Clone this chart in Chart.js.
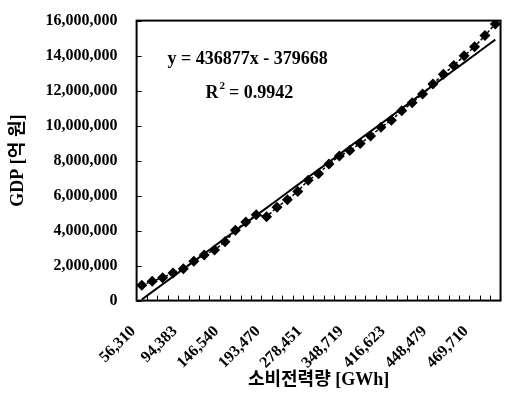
<!DOCTYPE html>
<html>
<head>
<meta charset="utf-8">
<script src="https://cdn.jsdelivr.net/npm/chart.js@4.4.0/dist/chart.umd.min.js"></script>
<style>
  html, body { margin: 0; padding: 0; background: #fff; }
  #wrap { width: 514px; height: 405px; }
</style>
</head>
<body>
<div id="wrap"><canvas id="myChart" width="514" height="405"></canvas></div>
<script>
// electricity use (GWh) per year, only every 4th one is labelled on the axis
const labels = [
  "56,310", "", "", "", "94,383", "", "", "", "146,540", "", "", "",
  "193,470", "", "", "", "278,451", "", "", "", "348,719", "", "", "",
  "416,623", "", "", "", "448,479", "", "", "", "469,710", "", ""
];

// GDP [억 원]
const gdp = [
  880000, 1110000, 1300000, 1580000, 1820000, 2240000, 2610000, 2890000,
  3360000, 4020000, 4490000, 4900000, 4790000, 5330000, 5760000, 6240000,
  6880000, 7250000, 7810000, 8260000, 8570000, 8980000, 9400000, 9900000,
  10300000, 10850000, 11310000, 11810000, 12380000, 12940000, 13430000,
  13990000, 14500000, 15150000, 15810000
];

const yTicks = [0, 2000000, 4000000, 6000000, 8000000, 10000000, 12000000, 14000000, 16000000];

// Excel trendline printed on the chart
const slope = 436877;
const intercept = -379668;
const trend = gdp.map((v, i) => slope * (i + 1) + intercept);

const serif = "'Liberation Serif', 'Times New Roman', 'Noto Sans CJK KR', serif";

const frame = {
  id: "frame",
  afterDraw(chart) {
    const ctx = chart.ctx;
    const a = chart.chartArea;
    ctx.save();
    ctx.strokeStyle = "#000";
    ctx.lineWidth = 2;
    ctx.strokeRect(a.left, a.top, a.right - a.left, a.bottom - a.top);

    // inward tick marks
    ctx.lineWidth = 1;
    const ys = chart.scales.y;
    yTicks.forEach(t => {
      const py = Math.round(ys.getPixelForValue(t)) + 0.5;
      ctx.beginPath();
      ctx.moveTo(a.left, py);
      ctx.lineTo(a.left + 5, py);
      ctx.stroke();
    });
    const n = labels.length;
    const w = (a.right - a.left) / n;
    for (let i = 1; i < n; i++) {
      const px = Math.round(a.left + i * w) + 0.5;
      ctx.beginPath();
      ctx.moveTo(px, a.bottom);
      ctx.lineTo(px, a.bottom - 5);
      ctx.stroke();
    }

    // equation
    ctx.fillStyle = "#000";
    ctx.font = "bold 18px " + serif;
    ctx.textBaseline = "middle";
    ctx.textAlign = "left";
    ctx.fillText("y = 436877x - 379668", a.left + 31, a.top + 39);
    ctx.fillText("R", a.left + 69, a.top + 73);
    const rw = ctx.measureText("R").width;
    ctx.font = "bold 11px " + serif;
    ctx.fillText("2", a.left + 69 + rw + 1, a.top + 66);
    ctx.font = "bold 18px " + serif;
    ctx.fillText(" = 0.9942", a.left + 69 + rw + 6, a.top + 73);
    ctx.restore();
  }
};

const data = {
  labels: labels,
  datasets: [
    {
      data: gdp,
      borderColor: "#000",
      backgroundColor: "#000",
      borderWidth: 1.5,
      borderDash: [3, 2],
      pointStyle: "rectRot",
      pointRadius: 5.5,
      pointBorderWidth: 0,
      tension: 0,
    },
    {
      data: trend,
      borderColor: "#000",
      borderWidth: 2,
      pointRadius: 0,
      tension: 0,
    },
  ],
};

const config = {
  type: "line",
  data: data,
  options: {
    responsive: false,
    animation: false,
    layout: {
      padding: { top: 0, right: 4, bottom: 10, left: 4 },
    },
    scales: {
      x: {
        offset: true,
        grid: { display: false },
        border: { display: false },
        ticks: {
          autoSkip: false,
          maxRotation: 45,
          minRotation: 45,
          padding: 5,
          color: "#000",
          font: { family: serif, size: 16, weight: "bold" },
          // trailing spaces push the rotated label down-left like the original
          callback: (v, i) => labels[i] ? labels[i] + "   " : "",
        },
        title: {
          display: true,
          text: "소비전력량 [GWh]",
          color: "#000",
          padding: { top: -8 },
          font: { family: serif, size: 18, weight: "bold" },
        },
      },
      y: {
        min: 0,
        max: 16000000,
        grid: { display: false },
        border: { display: false },
        afterBuildTicks: (scale) => {
          scale.ticks = yTicks.map(v => ({ value: v }));
        },
        ticks: {
          padding: 11,
          color: "#000",
          font: { family: serif, size: 16, weight: "bold" },
          callback: (v) => v.toLocaleString("en-US"),
        },
        title: {
          display: true,
          text: "GDP [억 원]",
          color: "#000",
          padding: { bottom: 5 },
          font: { family: serif, size: 18, weight: "bold" },
        },
      },
    },
    plugins: {
      legend: { display: false },
      tooltip: { enabled: false },
    },
  },
  plugins: [frame],
};

const myChart = new Chart(
  document.getElementById("myChart").getContext("2d"),
  config
);
</script>
</body>
</html>
